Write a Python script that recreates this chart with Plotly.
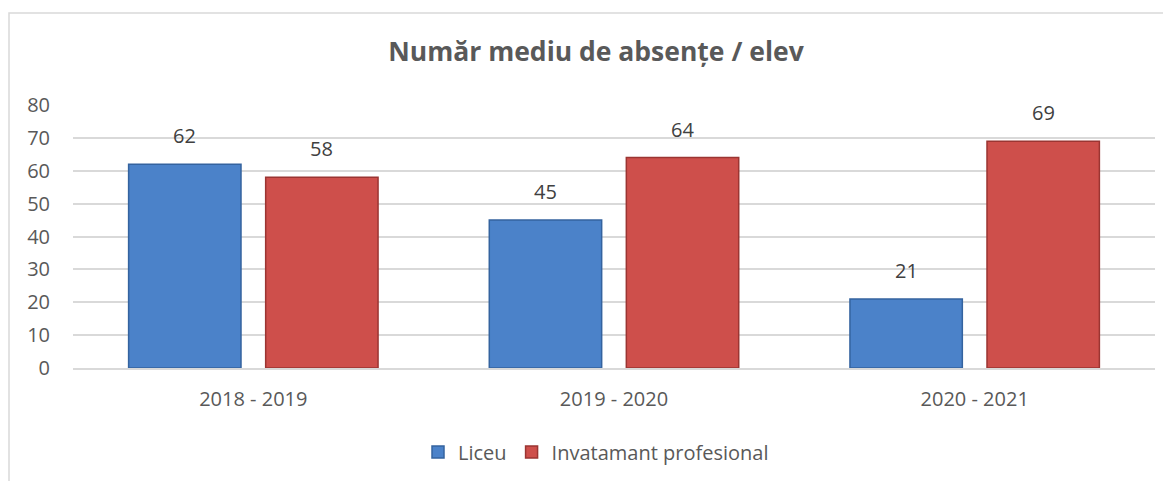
import plotly.graph_objects as go

categories = ["2018 - 2019", "2019 - 2020", "2020 - 2021"]
liceu = [62, 45, 21]
profesional = [58, 64, 69]
series_names = ["Liceu", "Invatamant profesional"]
title_text = "Număr mediu de absențe / elev"
y_ticks = [0, 10, 20, 30, 40, 50, 60, 70, 80]

FONT = "Open Sans, sans-serif"
OFF = 8  # page body margin
W, H = 1171 - OFF, 481 - OFF
L, T = 73 - OFF, 105 - OFF
R = W - (1155 - OFF)
B = H - (368 - OFF)
plot_w = W - L - R
plot_h = H - T - B

fig = go.Figure()
fig.add_trace(go.Bar(
    x=categories, y=liceu, name=series_names[0],
    marker=dict(color="#4B82C9", line=dict(color="#34639F", width=1.5)),
))
fig.add_trace(go.Bar(
    x=categories, y=profesional, name=series_names[1],
    marker=dict(color="#CE4F4B", line=dict(color="#9B3532", width=1.5)),
))

bargap = 0.24
bargroupgap = 0.18
slot_px = plot_w / len(categories) * (1 - bargap) / 2
annotations = []
for vals, sign in ((liceu, -1), (profesional, 1)):
    for c, v in zip(categories, vals):
        annotations.append(dict(
            x=c, y=v, xref="x", yref="y", text=str(v), showarrow=False,
            xshift=sign * slot_px / 2, yshift=13, yanchor="bottom",
            font=dict(family=FONT, size=20, color="#404040"),
        ))

# chart frame (left/top edges visible)
fx0 = (9 - OFF - L) / plot_w
fy1 = (H - B - (13 - OFF)) / plot_h
fig.add_shape(type="rect", xref="paper", yref="paper",
              x0=fx0, x1=1.2, y0=-1.0, y1=fy1,
              line=dict(color="#D9D9D9", width=1.5), layer="below")

fig.update_layout(
    width=W, height=H,
    margin=dict(l=L, r=R, t=T, b=B, autoexpand=False),
    paper_bgcolor="white", plot_bgcolor="white",
    barmode="group", bargap=bargap, bargroupgap=bargroupgap,
    title=dict(text="<b>" + title_text + "</b>", x=(596 - OFF) / W, xanchor="center",
               y=1 - (52 - OFF) / H, yanchor="middle",
               font=dict(family=FONT, size=26.5, color="#595959")),
    font=dict(family=FONT, color="#595959"),
    xaxis=dict(showgrid=False, showline=True, linecolor="#D9D9D9", linewidth=1.5,
               tickfont=dict(size=20, color="#595959"), ticks="", ticklabelstandoff=12),
    yaxis=dict(range=[0, 80], tickvals=y_ticks, showgrid=True, gridcolor="#D9D9D9",
               gridwidth=1.5, zeroline=False, showline=False, ticks="",
               tickfont=dict(size=20, color="#595959"), ticklabelstandoff=22),
    legend=dict(orientation="h", x=(596 - L - OFF) / plot_w, xanchor="center",
                y=(H - B - (452 - OFF)) / plot_h, yanchor="middle",
                font=dict(size=20, color="#595959"), itemwidth=30),
    annotations=annotations,
    showlegend=True,
)

fig.write_html("out.html")
